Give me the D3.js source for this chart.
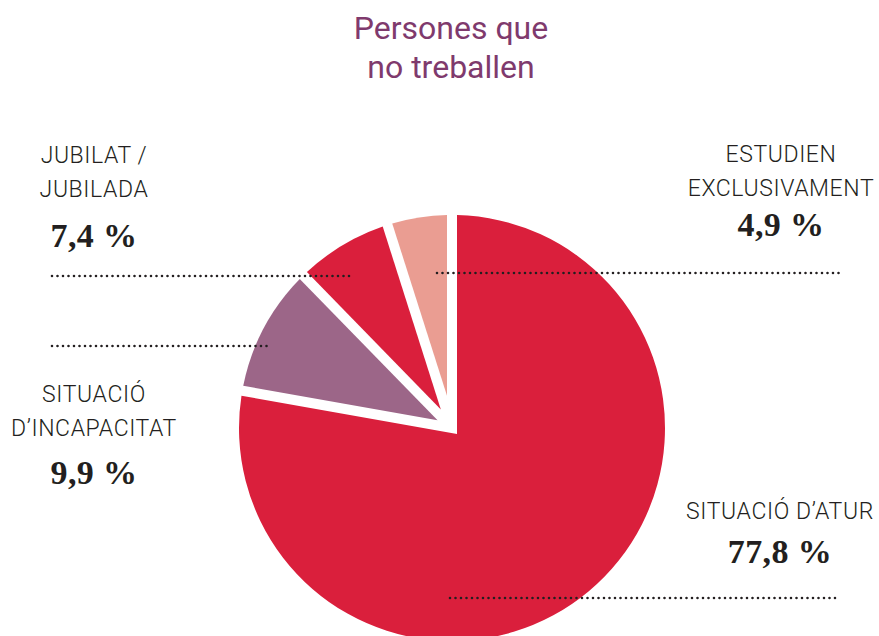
<!DOCTYPE html>
<html lang="ca">
<head>
<meta charset="UTF-8">
<title>Persones que no treballen</title>
<script src="https://cdnjs.cloudflare.com/ajax/libs/d3/7.8.5/d3.min.js"></script>
<style>
  html, body { margin: 0; padding: 0; background: #fff; }
  .lbl { font-family: Roboto, sans-serif; font-weight: 300; font-size: 23px; fill: #231f20; letter-spacing: 0.6px; }
  .pct { font-family: "Liberation Serif", serif; font-weight: bold; font-size: 34px; fill: #231f20; letter-spacing: 0.4px; }
  .title { font-family: Roboto, sans-serif; font-weight: 400; font-size: 32px; fill: #7f3a6d; }
</style>
</head>
<body>
<script>
// data
var categories = ["Situació d'atur", "Situació d'incapacitat", "Jubilat / jubilada", "Estudien exclusivament"];
var values = [77.8, 9.9, 7.4, 4.9];
var valueLabels = ["77,8 %", "9,9 %", "7,4 %", "4,9 %"];
var labelLines = [["SITUACIÓ D’ATUR"], ["SITUACIÓ", "D’INCAPACITAT"], ["JUBILAT /", "JUBILADA"], ["ESTUDIEN", "EXCLUSIVAMENT"]];
var colors = ["#da1f3c", "#9c6688", "#da1f3c", "#ea9d92"];
var titleLines = ["Persones que", "no treballen"];

var width = 879, height = 636;
var cx = 452, cy = 428, radius = 213;
var half = 5; // half of the white gap between slices

// label layout: x centre, first line baseline, value baseline
var labelPos = [
  {x: 780, y: 519, px: 563},
  {x: 94, y: 402, px: 484},
  {x: 94, y: 163, px: 247},
  {x: 781, y: 162, px: 236}
];
// dotted leaders
var leaders = [
  {x1: 450, x2: 840, y: 598},
  {x1: 52, x2: 271, y: 346},
  {x1: 52, x2: 354, y: 276},
  {x1: 437, x2: 840, y: 273}
];

var svg = d3.select("body").append("svg")
  .attr("width", width)
  .attr("height", height);

svg.append("text")
  .attr("class", "title")
  .attr("text-anchor", "middle")
  .selectAll("tspan")
  .data(titleLines)
  .enter().append("tspan")
  .attr("x", 451)
  .attr("y", function(d, i) { return 39 + i * 39; })
  .text(function(d) { return d; });

var pie = d3.pie().sort(null).value(function(d) { return d; });

// sector with parallel gaps: apex pushed along the bisector, arc trimmed at both ends
function slice(d) {
  var a0 = d.startAngle, a1 = d.endAngle, th = a1 - a0;
  var mid = (a0 + a1) / 2, off = half / Math.sin(th / 2);
  var t = Math.asin(half / radius);
  var p = d3.path();
  p.moveTo(off * Math.sin(mid), -off * Math.cos(mid));
  p.lineTo(radius * Math.sin(a0 + t), -radius * Math.cos(a0 + t));
  p.arc(0, 0, radius, a0 + t - Math.PI / 2, a1 - t - Math.PI / 2);
  p.closePath();
  return p.toString();
}

svg.append("g")
  .attr("transform", "translate(" + cx + "," + cy + ")")
  .selectAll("path")
  .data(pie(values))
  .enter().append("path")
  .attr("d", slice)
  .style("fill", function(d, i) { return colors[i]; });

svg.append("g")
  .selectAll("line")
  .data(leaders)
  .enter().append("line")
  .attr("x1", function(d) { return d.x1; })
  .attr("x2", function(d) { return d.x2; })
  .attr("y1", function(d) { return d.y; })
  .attr("y2", function(d) { return d.y; })
  .style("stroke", "#231f20")
  .style("stroke-width", 2.6)
  .style("stroke-linecap", "round")
  .style("stroke-dasharray", "0,5.5");

var labels = svg.append("g").selectAll("g")
  .data(categories)
  .enter().append("g");

labels.append("text")
  .attr("class", "lbl")
  .attr("text-anchor", "middle")
  .selectAll("tspan")
  .data(function(d, i) { return labelLines[i].map(function(t) { return {t: t, i: i}; }); })
  .enter().append("tspan")
  .attr("x", function(d) { return labelPos[d.i].x; })
  .attr("y", function(d, j) { return labelPos[d.i].y + j * 34; })
  .text(function(d) { return d.t; });

labels.append("text")
  .attr("class", "pct")
  .attr("text-anchor", "middle")
  .attr("x", function(d, i) { return labelPos[i].x; })
  .attr("y", function(d, i) { return labelPos[i].px; })
  .text(function(d, i) { return valueLabels[i]; });
</script>
</body>
</html>
